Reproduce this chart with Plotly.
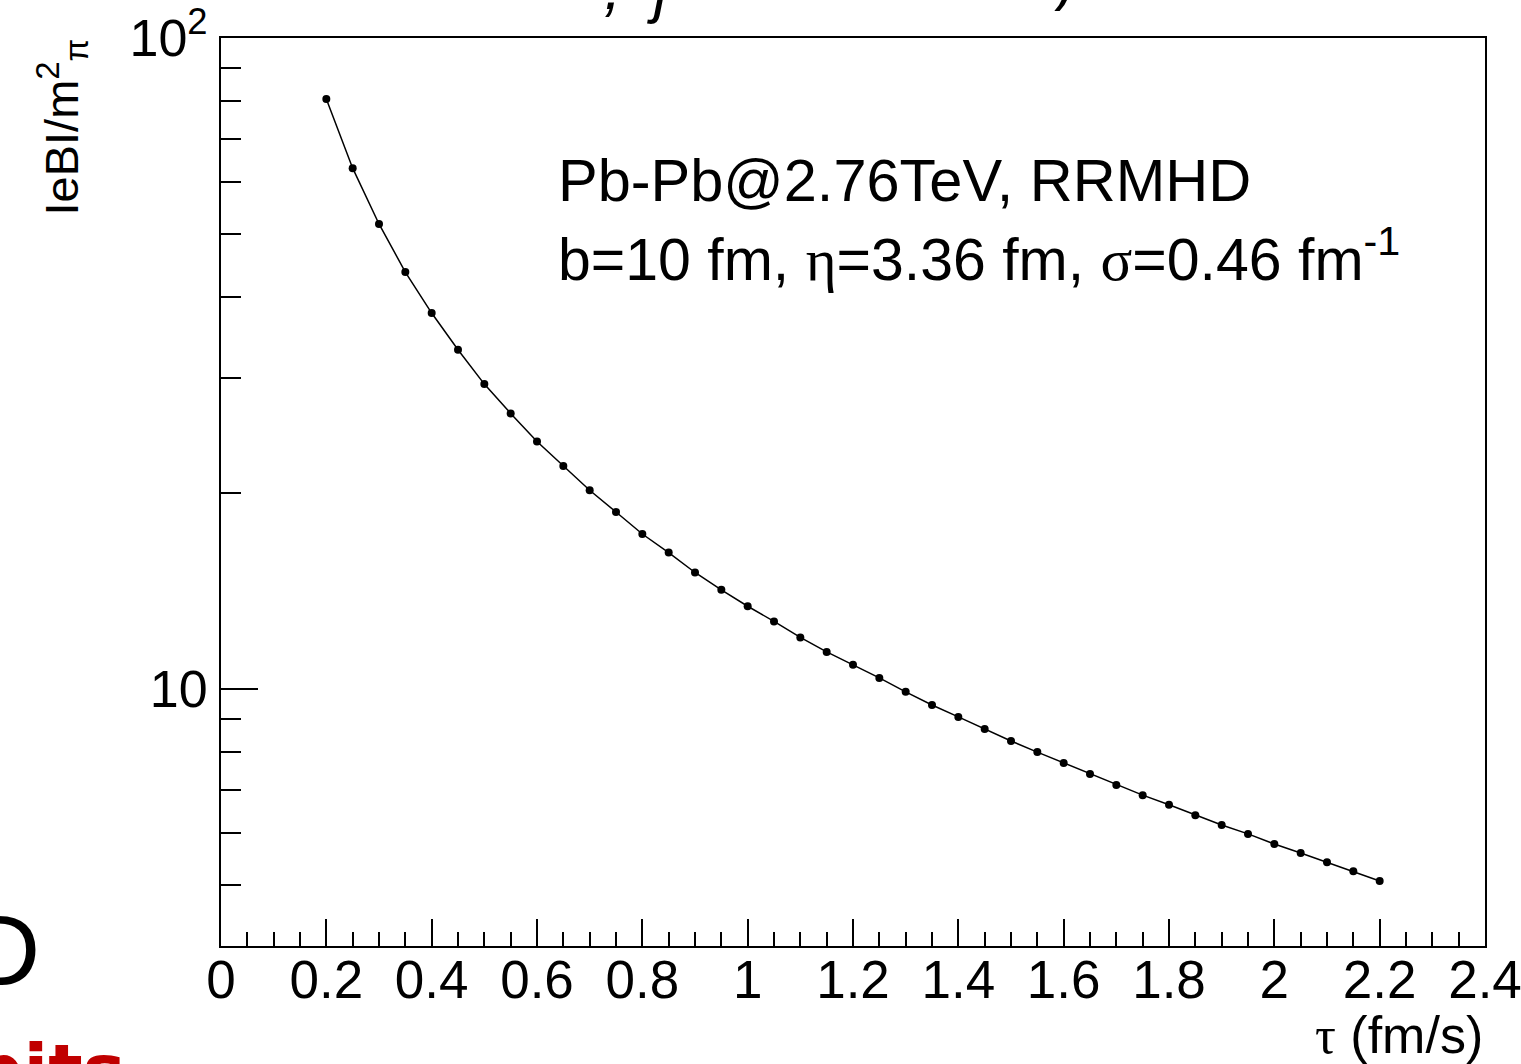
import plotly.graph_objects as go

# ---- data ----
tau = [0.20, 0.25, 0.30, 0.35, 0.40, 0.45, 0.50, 0.55, 0.60, 0.65,
       0.70, 0.75, 0.80, 0.85, 0.90, 0.95, 1.00, 1.05, 1.10, 1.15,
       1.20, 1.25, 1.30, 1.35, 1.40, 1.45, 1.50, 1.55, 1.60, 1.65,
       1.70, 1.75, 1.80, 1.85, 1.90, 1.95, 2.00, 2.05, 2.10, 2.15, 2.20]
eB = [80.6, 63.1, 51.8, 43.7, 37.8, 33.2, 29.4, 26.5, 24.0, 22.0,
      20.2, 18.7, 17.3, 16.2, 15.1, 14.2, 13.4, 12.7, 12.0, 11.4,
      10.9, 10.4, 9.9, 9.45, 9.06, 8.68, 8.32, 8.00, 7.70, 7.40,
      7.12, 6.87, 6.64, 6.40, 6.18, 5.99, 5.78, 5.60, 5.42, 5.25, 5.07]

x_major = [0, 0.2, 0.4, 0.6, 0.8, 1, 1.2, 1.4, 1.6, 1.8, 2, 2.2, 2.4]
x_major_text = ["0", "0.2", "0.4", "0.6", "0.8", "1", "1.2", "1.4", "1.6", "1.8", "2", "2.2", "2.4"]
y_major = [10, 100]
y_major_text = ["10", "10<sup>2</sup>"]
y_minor = [5, 6, 7, 8, 9, 20, 30, 40, 50, 60, 70, 80, 90]

FONT = "Liberation Sans"

W, H = 1521, 1064
L, R, T, B = 221, 36, 38, 118
PW, PH = W - L - R, H - T - B


def px(x):
    return (x - L) / PW


def py(y):
    return 1 - (y - T) / PH


fig = go.Figure()
fig.add_trace(go.Scatter(
    x=tau, y=eB, mode="lines+markers",
    line=dict(color="black", width=1.5),
    marker=dict(color="black", size=8),
    showlegend=False,
))

fig.update_layout(
    width=W, height=H,
    margin=dict(l=L, r=R, t=T, b=B, autoexpand=False),
    paper_bgcolor="white", plot_bgcolor="white",
    font=dict(family=FONT, color="black", size=50),
)

fig.update_xaxes(
    range=[0, 2.4], showgrid=False, zeroline=False, automargin=False,
    showline=True, linecolor="black", linewidth=2, mirror=True,
    ticks="inside", ticklen=27, tickwidth=2, tickcolor="black",
    tickmode="array", tickvals=x_major, ticktext=x_major_text,
    tickfont=dict(size=53, family=FONT), ticklabeloverflow="allow",
    ticklabelstandoff=-14,
    minor=dict(ticks="inside", ticklen=14, tickwidth=2, tickcolor="black",
               dtick=0.05, tick0=0, showgrid=False),
)
fig.update_yaxes(
    type="log", range=[0.6052, 2.0], showgrid=False, zeroline=False, automargin=False,
    showline=True, linecolor="black", linewidth=2, mirror=True,
    ticks="inside", ticklen=37, tickwidth=2, tickcolor="black",
    tickmode="array", tickvals=y_major, ticktext=y_major_text,
    tickfont=dict(size=52, family=FONT), ticklabeloverflow="allow",
    ticklabelstandoff=1,
    minor=dict(ticks="inside", ticklen=20, tickwidth=2, tickcolor="black",
               tickmode="array", tickvals=y_minor, showgrid=False),
)

# in-plot labels
fig.add_annotation(
    xref="paper", yref="paper", x=px(556), y=py(180),
    xanchor="left", yanchor="middle", showarrow=False,
    text="Pb-Pb@2.76TeV, RRMHD", font=dict(size=59.5, family=FONT),
)
fig.add_annotation(
    xref="paper", yref="paper", x=px(556), y=py(256),
    xanchor="left", yanchor="middle", showarrow=False,
    text=("b=10 fm, <span style=\"font-family:'Liberation Serif'\">η</span>=3.36 fm, "
          "<span style=\"font-family:'Liberation Serif'\">σ</span>=0.46 fm<sup>-1</sup>"),
    font=dict(size=59, family=FONT),
)

# axis titles
fig.add_annotation(
    xref="paper", yref="paper", x=1, y=py(1004),
    xanchor="right", yanchor="top", showarrow=False,
    text="<span style=\"font-family:'Liberation Serif'\">τ</span> (fm/s)",
    font=dict(size=52, family=FONT),
)
fig.add_annotation(
    xref="paper", yref="paper", x=px(62), y=py(37),
    xanchor="center", yanchor="top", showarrow=False, textangle=-90,
    text="IeBI/m<sup>2</sup><sub>π</sub>",
    font=dict(size=47, family=FONT),
)

# fragments of neighbouring content cut by the image edges
fig.add_annotation(
    xref="paper", yref="paper", x=px(612), y=py(24),
    xanchor="center", yanchor="bottom", showarrow=False,
    text="<i>,</i>", font=dict(size=62, family=FONT),
)
fig.add_annotation(
    xref="paper", yref="paper", x=px(658), y=py(26),
    xanchor="center", yanchor="bottom", showarrow=False,
    text="<i>j</i>", font=dict(size=62, family=FONT),
)
fig.add_annotation(
    xref="paper", yref="paper", x=px(1064), y=py(13),
    xanchor="center", yanchor="bottom", showarrow=False,
    text=")", font=dict(size=62, family=FONT),
)
fig.add_annotation(
    xref="paper", yref="paper", x=px(42), y=py(950),
    xanchor="right", yanchor="middle", showarrow=False,
    text="D", font=dict(size=100, family=FONT),
)
fig.add_annotation(
    xref="paper", yref="paper", x=px(128), y=py(1026),
    xanchor="right", yanchor="top", showarrow=False,
    text="<b>bits</b>", font=dict(size=72, family="DejaVu Sans", color="#c00000"),
)

fig.write_html("out.html", config={"displayModeBar": False},
               post_script="document.body.style.margin='0';")
